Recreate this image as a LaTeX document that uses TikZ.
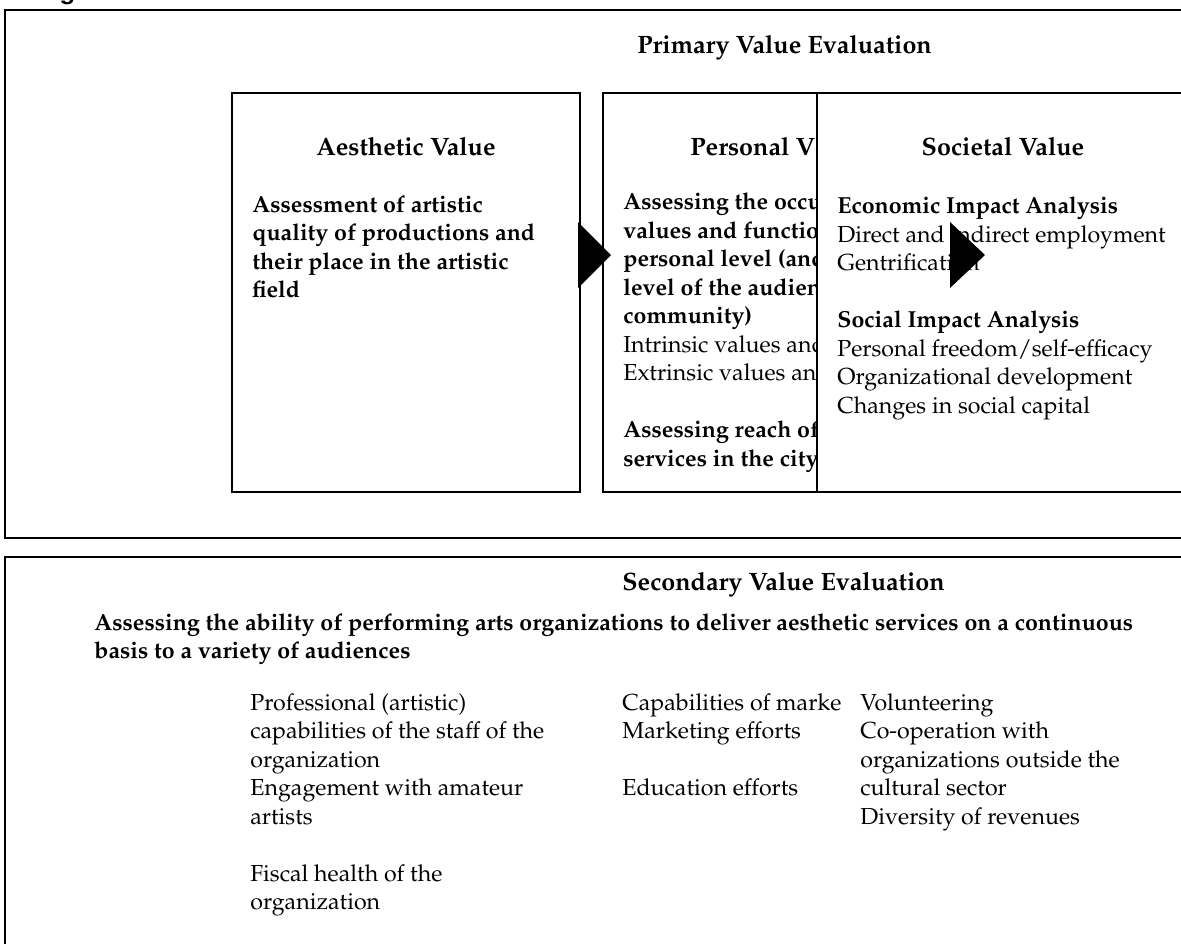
\documentclass[tikz,border=0pt]{standalone}
\usepackage[T1]{fontenc}
\renewcommand{\rmdefault}{ppl}
\begin{document}
\begin{tikzpicture}[x=0.02cm, y=-0.02cm,
            frame/.style={draw=black, line width=1.1pt},
            valbox/.style={draw=black, line width=0.8pt},
            head/.style={font=\fontsize{14.3}{16}\selectfont\bfseries, inner sep=0pt, anchor=base},
            body/.style={font=\fontsize{13.2}{16.2}\selectfont, align=left, anchor=base west, inner sep=0pt}
        ]
            \useasboundingbox (0,0) rectangle (1181,944);
            \clip (0,0) rectangle (1181,944);

% Cut-off caption
            \node[anchor=base west, inner sep=0pt, font=\fontsize{14}{16}\usefont{T1}{phv}{b}{n}] (caption) at (38,-1) {Figure};

% Primary value evaluation (text nodes sit on the baseline of their last line)
            \draw[frame] (5,10) rectangle (1200,538);
            \node[head, anchor=base west] (primary) at (637,53) {Primary Value Evaluation};

            \draw[valbox] (232,93) rectangle (580,492);
            \node[head] (aesthetic) at (406,155) {Aesthetic Value};
            \node[body, font=\fontsize{13.2}{16.2}\selectfont\bfseries] (aestheticText) at (252,297.5) {
                Assessment of artistic\\
                quality of productions and\\
                their place in the artistic\\
                field};

            \draw[valbox] (603,93) rectangle (947,492);
            \node[head, anchor=base west] (personal) at (690,155) {Personal V};
            \node[body] (personalText) at (623,466) {
                \textbf{Assessing the occu}\\
                \textbf{values and functio}\\
                \textbf{personal level (and}\\
                \textbf{level of the audien}\\
                \textbf{community)}\\
                Intrinsic values and\\
                Extrinsic values and\\[16.2pt]
                \textbf{Assessing reach of}\\
                \textbf{services in the city}};

            \fill[black] (578,222) -- (611,255) -- (578,288) -- cycle;

            \filldraw[valbox, fill=white] (817,93) rectangle (1189,492);
            \node[head] (societal) at (1003,155) {Societal Value};
            \node[body] (societalText) at (837,413) {
                \textbf{Economic Impact Analysis}\\
                Direct and indirect employment\\
                Gentrification\\[16.2pt]
                \textbf{Social Impact Analysis}\\
                Personal freedom/self-efficacy\\
                Organizational development\\
                Changes in social capital};

            \fill[black] (950,222) -- (985,255) -- (950,288) -- cycle;

% Secondary value evaluation
            \draw[frame] (5,557) rectangle (1200,960);
            \node[head, anchor=base west] (secondary) at (622,590) {Secondary Value Evaluation};
            \node[body, font=\fontsize{13.2}{16.2}\selectfont\bfseries] (secondaryText) at (94,658.5) {
                Assessing the ability of performing arts organizations to deliver aesthetic services on a continuous\\
                basis to a variety of audiences};

            \node[body] (colA) at (250,909.5) {
                Professional (artistic)\\
                capabilities of the staff of the\\
                organization\\
                Engagement with amateur\\
                artists\\[16.2pt]
                Fiscal health of the\\
                organization};
            \node[body] (colB) at (622,795.5) {
                Capabilities of marke\\
                Marketing efforts\\[16.2pt]
                Education efforts};
            \node[body] (colC) at (860,824) {
                Volunteering\\
                Co-operation with\\
                organizations outside the\\
                cultural sector\\
                Diversity of revenues};

        \end{tikzpicture}
\end{document}
